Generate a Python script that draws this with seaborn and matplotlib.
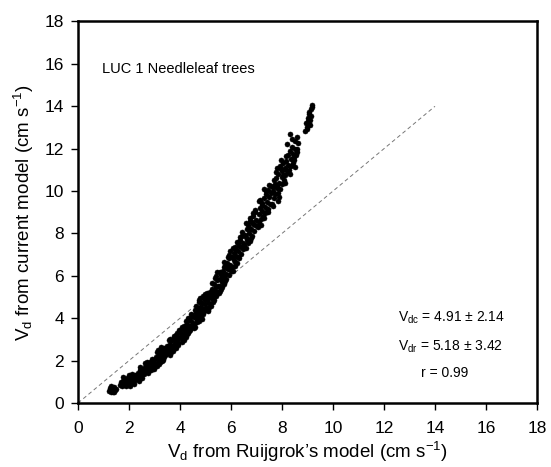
import numpy as np
import pandas as pd
import matplotlib
matplotlib.use("Agg")
import matplotlib.pyplot as plt
import seaborn as sns

# ---------------- data ----------------
x_seg1 = [1.22,1.26,1.29,1.31,1.34,1.36,1.39,1.41,1.44,1.47,1.30,1.38,1.25,1.43]
y_seg1 = [0.55,0.62,0.50,0.70,0.58,0.66,0.52,0.74,0.61,0.68,0.78,0.57,0.72,0.50]

x_seg2 = [1.66,1.70,1.73,1.77,1.80,1.83,1.87,1.90,1.94,1.97,2.01,2.04,2.08,2.12,2.15,2.19,2.23,2.27,1.75,1.88,2.00,2.10,2.20]
y_seg2 = [0.85,0.98,0.80,1.05,0.92,1.15,0.88,1.02,1.20,0.95,1.10,0.82,1.25,1.00,1.18,0.90,1.30,1.12,1.22,0.78,1.32,1.35,1.05]

x_seg3 = [2.32,2.36,2.40,2.44,2.48,2.52,2.56,2.60,2.64,2.68,2.72,2.76,2.80,2.84,2.88,2.92,2.96,3.00,2.38,2.50,2.62,2.74,2.86,2.98,2.45,2.70,2.90]
y_seg3 = [1.15,1.40,1.25,1.55,1.30,1.60,1.45,1.35,1.70,1.50,1.80,1.55,1.65,1.95,1.72,1.85,2.05,1.78,1.05,1.20,1.88,1.40,1.55,1.62,1.68,1.95,2.10]

x_seg4 = [3.03,3.06,3.10,3.13,3.16,3.20,3.23,3.26,3.30,3.33,3.36,3.40,3.43,3.46,3.50,3.08,3.18,3.28,3.38,3.48,3.12,3.24,3.35,3.45]
y_seg4 = [1.90,2.15,1.75,2.05,2.30,1.95,2.20,2.45,2.10,2.35,2.60,2.25,2.50,2.30,2.70,2.40,1.85,2.00,2.15,2.55,2.50,2.62,2.05,2.45]

x_seg5 = [3.53,3.56,3.59,3.62,3.65,3.68,3.71,3.74,3.77,3.80,3.83,3.86,3.89,3.92,3.95,3.98,3.58,3.66,3.75,3.84,3.93,3.61,3.70,3.79,3.88,3.97]
y_seg5 = [2.40,2.65,2.25,2.80,2.55,2.95,2.70,2.45,3.05,2.85,2.60,3.20,2.95,2.75,3.35,3.10,2.95,2.40,3.15,3.05,2.85,3.00,2.60,2.70,3.30,3.45]

x_seg6 = [4.02,4.05,4.08,4.11,4.14,4.17,4.20,4.23,4.26,4.29,4.32,4.35,4.38,4.41,4.44,4.47,4.50,4.06,4.15,4.24,4.33,4.42,4.10,4.19,4.28,4.37,4.46]
y_seg6 = [3.05,3.30,2.90,3.50,3.20,3.65,3.40,3.10,3.75,3.55,3.30,3.90,3.65,3.45,4.05,3.80,3.60,3.60,2.95,3.85,4.00,4.20,3.15,3.55,3.25,3.40,4.15]

x_seg7 = [4.53,4.56,4.59,4.62,4.65,4.68,4.71,4.74,4.77,4.80,4.83,4.86,4.89,4.92,4.95,4.98,4.58,4.67,4.76,4.85,4.94,4.61,4.70,4.79,4.88,4.97,4.55,4.73,4.91]
y_seg7 = [3.75,4.05,3.60,4.25,3.90,4.40,4.10,3.85,4.55,4.30,4.05,4.70,4.45,4.20,4.90,4.65,4.40,3.80,4.75,3.95,4.35,4.60,4.20,4.95,4.50,5.15,3.55,4.85,5.05]

x_seg8 = [5.02,5.05,5.08,5.11,5.14,5.17,5.20,5.23,5.26,5.29,5.32,5.35,5.38,5.41,5.44,5.47,5.50,5.06,5.15,5.24,5.33,5.42,5.10,5.19,5.28,5.37,5.46,5.03,5.22,5.40]
y_seg8 = [4.50,4.85,4.35,5.05,4.70,5.25,4.95,4.60,5.40,5.10,4.85,5.60,5.30,5.05,5.80,5.50,5.25,5.20,4.55,5.65,5.35,6.00,4.40,5.05,4.75,5.90,6.20,4.95,5.15,5.45]

x_seg9 = [5.52,5.55,5.58,5.61,5.64,5.67,5.70,5.73,5.76,5.79,5.82,5.85,5.88,5.91,5.94,5.97,6.00,5.56,5.65,5.74,5.83,5.92,5.60,5.69,5.78,5.87,5.96,5.53,5.72,5.90]
y_seg9 = [5.50,5.85,5.30,6.05,5.70,6.25,5.95,5.60,6.45,6.10,5.85,6.60,6.30,6.05,6.85,6.50,6.25,6.20,5.45,6.65,6.35,7.00,5.40,6.00,5.75,6.90,7.15,5.20,6.40,6.50]

x_str1 = [6.02,6.05,6.08,6.11,6.14,6.17,6.20,6.23,6.26,6.29,6.32,6.35,6.38,6.41,6.44,6.47,6.06,6.15,6.24,6.33,6.42,6.10,6.19,6.28,6.37,6.46]
y_str1 = [6.40,6.90,6.25,7.10,6.65,7.35,6.95,6.60,7.55,7.15,6.85,7.70,7.35,7.05,7.90,7.55,7.30,6.45,7.60,7.40,8.05,6.75,7.20,6.90,7.85,7.25]

x_str2 = [6.52,6.55,6.58,6.61,6.64,6.67,6.70,6.73,6.76,6.79,6.82,6.85,6.88,6.91,6.94,6.97,7.00,6.57,6.66,6.75,6.84,6.93,6.60,6.69,6.78,6.87,6.96]
y_str2 = [7.45,7.95,7.30,8.20,7.70,8.40,8.00,7.65,8.60,8.20,7.90,8.80,8.45,8.10,9.00,8.65,8.35,8.50,7.55,8.75,8.55,9.10,7.85,8.25,7.80,8.95,8.40]

x_str3 = [7.05,7.08,7.11,7.14,7.17,7.20,7.23,7.26,7.29,7.32,7.35,7.38,7.41,7.44,7.47,7.50,7.53,7.56,7.10,7.19,7.28,7.37,7.46,7.55,7.13,7.22,7.31,7.40,7.49]
y_str3 = [8.30,8.90,8.55,9.20,8.70,9.45,9.05,8.80,9.65,9.25,8.95,9.85,9.50,9.15,10.05,9.70,9.40,10.25,9.55,8.40,8.75,10.00,9.00,9.90,9.60,9.35,10.10,9.05,10.30]

x_str4 = [7.62,7.65,7.68,7.71,7.74,7.77,7.80,7.83,7.86,7.89,7.92,7.95,7.98,8.01,8.04,7.66,7.75,7.84,7.93,8.02,7.70,7.79,7.88,7.97,7.63,7.82,8.00]
y_str4 = [9.40,10.00,9.65,10.35,9.85,10.60,10.15,9.90,10.80,10.40,10.10,11.05,10.65,10.35,11.30,9.30,10.90,9.55,11.20,10.75,10.50,10.25,9.70,11.45,10.20,11.10,10.95]

x_str5 = [8.07,8.10,8.13,8.16,8.19,8.22,8.25,8.28,8.31,8.34,8.37,8.40,8.43,8.46,8.49,8.52,8.55,8.58,8.61,8.12,8.21,8.30,8.39,8.48,8.57,8.15,8.24,8.33,8.42,8.51,8.60]
y_str5 = [10.50,11.10,10.75,11.40,10.95,11.70,11.25,11.00,11.90,11.50,11.20,12.10,11.75,11.45,12.35,12.00,11.70,12.55,12.25,10.40,12.20,10.80,12.45,11.60,11.85,11.65,10.90,12.70,11.30,11.15,12.00]

x_str6 = [8.92,8.95,8.98,9.01,9.04,9.07,9.10,9.13,9.16,8.97,9.06,9.15,9.00,9.09,9.18]
y_str6 = [12.85,13.20,13.00,13.45,13.15,13.65,13.35,13.85,14.05,12.95,13.75,13.55,13.30,13.10,13.95]

one_to_one = [0, 14]
ticks = [0, 2, 4, 6, 8, 10, 12, 14, 16, 18]

label_text = "LUC 1 Needleleaf trees"
stats_lines = [r"V$_{\rm dc}$ = 4.91 ± 2.14", r"V$_{\rm dr}$ = 5.18 ± 3.42", "r = 0.99"]

# ---------------- assemble ----------------
xs = (x_seg1 + x_seg2 + x_seg3 + x_seg4 + x_seg5 + x_seg6 + x_seg7 + x_seg8 + x_seg9
      + x_str1 + x_str2 + x_str3 + x_str4 + x_str5 + x_str6)
ys = (y_seg1 + y_seg2 + y_seg3 + y_seg4 + y_seg5 + y_seg6 + y_seg7 + y_seg8 + y_seg9
      + y_str1 + y_str2 + y_str3 + y_str4 + y_str5 + y_str6)
df = pd.DataFrame({"ruijgrok": xs, "current": ys})

sns.set_theme(style="white")
plt.rcParams["font.family"] = ["Liberation Sans", "DejaVu Sans"]
plt.rcParams["mathtext.fontset"] = "custom"
plt.rcParams["mathtext.rm"] = "Liberation Sans"
plt.rcParams["mathtext.it"] = "Liberation Sans:italic"
plt.rcParams["mathtext.bf"] = "Liberation Sans:bold"

fig = plt.figure(figsize=(5.51, 4.67), dpi=100)
ax = fig.add_axes([0.1416, 0.137, 0.8330, 0.817])

ax.plot(one_to_one, one_to_one, color="#777777", lw=0.7, dashes=(4, 3), zorder=1)
sns.scatterplot(data=df, x="ruijgrok", y="current", ax=ax, color="black",
                s=13, edgecolor="black", linewidth=0.4, zorder=2, legend=False)

ax.set_xlim(0, 18)
ax.set_ylim(0, 18)
ax.set_xticks(ticks)
ax.set_yticks(ticks)
ax.tick_params(axis="both", which="both", direction="out", length=5, width=1,
               color="black", labelsize=12.5, labelcolor="black", pad=5,
               bottom=True, left=True, top=False, right=False)
ax.tick_params(axis="x", pad=8)
for sp in ax.spines.values():
    sp.set_color("black")
    sp.set_linewidth(1.8)
    sp.set_visible(True)

ax.set_xlabel(r"V$_{\rm d}$ from Ruijgrok’s model (cm s$^{-1}$)", fontsize=13.5, color="black", labelpad=3)
ax.set_ylabel(r"V$_{\rm d}$ from current model (cm s$^{-1}$)", fontsize=13.5, color="black", labelpad=6)

ax.text(0.95, 15.75, label_text, fontsize=10.5, ha="left", va="center", color="black")
ax.text(12.55, 4.0, stats_lines[0], fontsize=10, ha="left", va="center", color="black")
ax.text(12.55, 2.65, stats_lines[1], fontsize=10, ha="left", va="center", color="black")
ax.text(13.45, 1.4, stats_lines[2], fontsize=10, ha="left", va="center", color="black")

fig.savefig("out.png", dpi=100, facecolor="white")
